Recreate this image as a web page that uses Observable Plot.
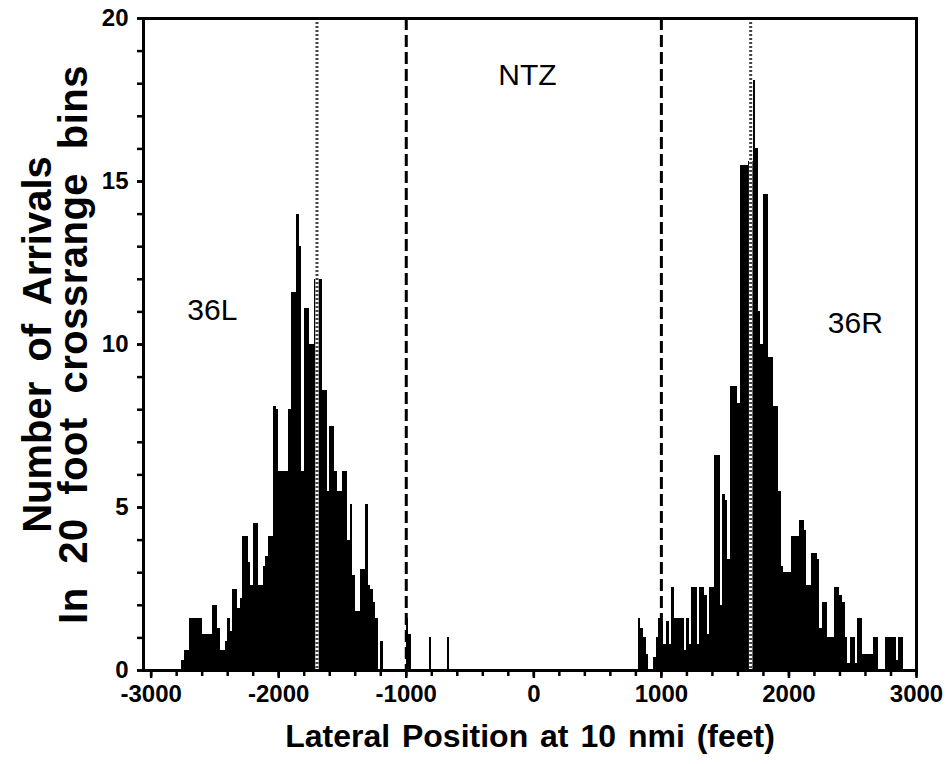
<!DOCTYPE html>
<html>
<head>
<meta charset="utf-8">
<script src="https://cdn.jsdelivr.net/npm/d3@7"></script>
<script src="https://cdn.jsdelivr.net/npm/@observablehq/plot@0.6"></script>
<style>
  html, body { margin: 0; padding: 0; background: #fff; }
  #chart svg { display: block; }
</style>
</head>
<body>
<div id="chart"></div>
<script>
// ---- data (20 ft crossrange bins) ----
const binWidth = 20;

// 36L cluster: first bin starts at -2760 ft
const leftStart = -2760;
const leftCounts = [
  0.3, 0.6, 0.6, 1.6, 1.6, 1.6, 1.6, 1.6, 1.1, 1.1,
  1.1, 1.1, 2.0, 2.0, 1.3, 0.6, 0.6, 0.9, 1.6, 1.2,
  2.5, 2.5, 1.9, 2.2, 4.1, 4.1, 3.3, 2.6, 4.5, 4.5,
  2.6, 2.6, 3.2, 3.5, 4.1, 4.1, 8.1, 8.0, 6.1, 6.1,
  6.1, 6.1, 8.0, 11.6, 11.6, 14.0, 13.0, 6.1, 11.1, 11.1,
  10.0, 10.0, 12.0, 12.0, 12.0, 8.6, 8.6, 5.5, 7.5, 7.5,
  6.1, 5.5, 5.5, 6.1, 6.1, 4.0, 5.1, 2.9, 1.8, 1.8,
  3.1, 3.1, 5.1, 2.6, 2.5, 2.1, 1.6, 0, 0.9
];

// scattered arrivals inside the NTZ
const ntzBins = [-1000, -980, -820, -680];
const ntzCounts = [1.6, 1.1, 1.0, 1.0];

// 36R cluster: first bin starts at 820 ft
const rightStart = 820;
const rightCounts = [
  1.6, 1.3, 1.0, 0.5, 0, 0, 0.4, 1.0, 1.6, 1.5,
  0.8, 1.5, 0.8, 2.55, 1.6, 1.6, 1.6, 1.6, 0.6, 1.6,
  0.8, 2.55, 2.55, 0.8, 2.55, 2.55, 2.3, 1.1, 2.55, 2.55,
  6.6, 6.6, 2.0, 5.4, 5.2, 3.4, 8.7, 8.7, 8.7, 8.2,
  15.5, 15.5, 15.5, 15.6, 15.6, 18.1, 16.0, 11.0, 10.0, 14.6,
  14.6, 9.6, 9.6, 8.1, 8.1, 5.5, 3.2, 3.0, 3.0, 3.0,
  4.1, 4.1, 4.1, 4.6, 4.6, 4.3, 2.6, 2.6, 3.6, 3.6,
  3.4, 1.3, 2.1, 2.1, 1.0, 1.0, 1.0, 2.55, 2.55, 2.3,
  2.1, 1.0, 0.2, 1.0, 1.0, 0.2, 1.6, 1.6, 0.5, 0.5,
  0.5, 0.5, 1.0, 1.0, 0, 0, 0, 1.0, 1.0, 1.0,
  1.0, 0.3, 1.0, 1.0
];

const xTicks = [-3000, -2000, -1000, 0, 1000, 2000, 3000];
const xMinorTicks = d3.range(-3000, 3001, 200);
const yTicks = [0, 5, 10, 15, 20];
const yMinorTicks = d3.range(0, 21, 1);

const ntzBoundaries = [-1000, 1000];
const runwayCenterlines = [-1700, 1700];

const annotationText = ["36L", "NTZ", "36R"];
const annotationX = [-2520, -50, 2520];
const annotationY = [10.75, 17.95, 10.35];

const xTitle = "Lateral Position at 10 nmi (feet)";
const yTitle1 = "Number of Arrivals";
const yTitle2 = "In 20 foot crossrange bins";

// ---- build table ----
const bins = [];
leftCounts.forEach((n, i) => bins.push({x: leftStart + i * binWidth, n}));
ntzBins.forEach((x, i) => bins.push({x, n: ntzCounts[i]}));
rightCounts.forEach((n, i) => bins.push({x: rightStart + i * binWidth, n}));
const bars = bins.filter(d => d.n > 0);

const annotations = annotationText.map((t, i) => ({t, x: annotationX[i], y: annotationY[i]}));

const font = "'Liberation Sans', Arial, Helvetica, sans-serif";

const chart = Plot.plot({
  width: 948,
  height: 764,
  marginLeft: 143,
  marginRight: 32,
  marginTop: 18,
  marginBottom: 94,
  style: {fontFamily: font, background: "#fff", color: "#000", overflow: "visible"},
  x: {domain: [-3060, 3000]},
  y: {domain: [0, 20]},
  marks: [
    Plot.rectY(bars, {
      x1: "x", x2: d => d.x + binWidth, y: "n",
      fill: "black", inset: 0, shapeRendering: "crispEdges"
    }),
    // runway centerlines (dotted)
    Plot.ruleX(runwayCenterlines, {stroke: "white", strokeWidth: 3.5}),
    Plot.ruleX(runwayCenterlines, {stroke: "#444", strokeWidth: 3, strokeDasharray: "2,2"}),
    // NTZ boundaries (dashed)
    Plot.ruleX(ntzBoundaries, {stroke: "black", strokeWidth: 3, strokeDasharray: "12,5"}),
    Plot.frame({stroke: "black", strokeWidth: 3}),
    // minor ticks
    Plot.axisX({ticks: xMinorTicks, tickSize: 6, strokeWidth: 2.5, tickFormat: () => "", label: null}),
    Plot.axisY({ticks: yMinorTicks, tickSize: 6, strokeWidth: 2.5, tickFormat: () => "", label: null}),
    // major ticks + labels
    Plot.axisX({
      ticks: xTicks, tickSize: 8, tickPadding: 6, strokeWidth: 2.5,
      tickFormat: d => String(d), label: null,
      fontSize: 24, fontWeight: "bold", fontFamily: font
    }),
    Plot.axisY({
      ticks: yTicks, tickSize: 6, tickPadding: 9, strokeWidth: 2.5,
      tickFormat: d => String(d), label: null,
      fontSize: 24, fontWeight: "bold", fontFamily: font
    }),
    // annotations
    Plot.text(annotations, {
      x: "x", y: "y", text: "t", lineAnchor: "bottom", textAnchor: "middle",
      fontSize: 30, fontWeight: "normal", fontFamily: font, fill: "black"
    }),
    // axis titles
    Plot.text([xTitle], {
      text: d => d, frameAnchor: "bottom", dy: 76, lineAnchor: "bottom", textAnchor: "middle",
      fontSize: 32, fontWeight: "bold", fontFamily: font, fill: "black"
    }),
    Plot.text([yTitle1], {
      text: d => d, frameAnchor: "left", dx: -93, dy: 0, rotate: -90,
      lineAnchor: "bottom", textAnchor: "middle",
      fontSize: 40, fontWeight: "bold", fontFamily: font, fill: "black"
    }),
    Plot.text([yTitle2], {
      text: d => d, frameAnchor: "left", dx: -57, dy: 0, rotate: -90,
      lineAnchor: "bottom", textAnchor: "middle",
      fontSize: 40, fontWeight: "bold", fontFamily: font, fill: "black"
    })
  ]
});

// wider word spacing as in the scanned original
d3.select(chart).selectAll("text")
  .filter(function () { return this.textContent === xTitle; })
  .style("word-spacing", "3px");
d3.select(chart).selectAll("text")
  .filter(function () { return this.textContent === yTitle1; })
  .style("word-spacing", "9px");
d3.select(chart).selectAll("text")
  .filter(function () { return this.textContent === yTitle2; })
  .style("word-spacing", "12px")
  .style("letter-spacing", "0.5px");

document.getElementById("chart").appendChild(chart);
</script>
</body>
</html>
